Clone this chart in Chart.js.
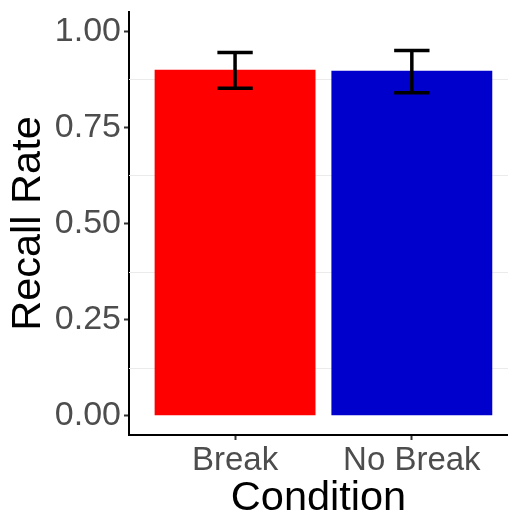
<!DOCTYPE html>
<html>
<head>
<meta charset="utf-8">
<script src="https://cdn.jsdelivr.net/npm/chart.js@4.4.1/dist/chart.umd.min.js"></script>
<style>
html,body{margin:0;padding:0;background:#fff;overflow:hidden;}
canvas{display:block;}
</style>
</head>
<body>
<canvas id="c" width="508" height="516"></canvas>
<script>
const categories = ["Break", "No Break"];
const recallRate = [0.900, 0.897];
const errLower = [0.852, 0.840];
const errUpper = [0.945, 0.950];
const barColors = ["#FF0000", "#0000CD"];
const yTicks = [0, 0.25, 0.5, 0.75, 1.0];
const yMinorGrid = [0.125, 0.375, 0.625, 0.875];

const minorGridPlugin = {
  id: 'minorGrid',
  beforeDatasetsDraw(chart) {
    const {ctx, chartArea, scales} = chart;
    ctx.save();
    ctx.strokeStyle = '#EBEBEB';
    ctx.lineWidth = 1;
    yMinorGrid.forEach(v => {
      const y = Math.round(scales.y.getPixelForValue(v)) + 0.5;
      ctx.beginPath();
      ctx.moveTo(chartArea.left, y);
      ctx.lineTo(chartArea.right, y);
      ctx.stroke();
    });
    ctx.restore();
  }
};

const errorBarPlugin = {
  id: 'errorBars',
  afterDatasetsDraw(chart) {
    const {ctx, scales} = chart;
    ctx.save();
    ctx.strokeStyle = '#000';
    ctx.lineWidth = 3.5;
    ctx.lineCap = 'butt';
    categories.forEach((c, i) => {
      const x = scales.x.getPixelForValue(i + 1);
      const hw = Math.abs(scales.x.getPixelForValue(i + 1.1) - x);
      const yl = scales.y.getPixelForValue(errLower[i]);
      const yu = scales.y.getPixelForValue(errUpper[i]);
      ctx.beginPath();
      ctx.moveTo(x, yl); ctx.lineTo(x, yu);
      ctx.moveTo(x - hw, yl); ctx.lineTo(x + hw, yl);
      ctx.moveTo(x - hw, yu); ctx.lineTo(x + hw, yu);
      ctx.stroke();
    });
    ctx.restore();
  }
};

new Chart(document.getElementById('c'), {
  type: 'bar',
  data: {
    datasets: [{
      data: categories.map((c, i) => ({x: i + 1, y: recallRate[i]})),
      backgroundColor: barColors,
      borderWidth: 0,
      categoryPercentage: 0.91,
      barPercentage: 1.0
    }]
  },
  options: {
    responsive: false,
    animation: false,
    devicePixelRatio: 1,
    layout: {padding: {top: 12, right: 0, left: 0, bottom: 0}},
    plugins: {legend: {display: false}, tooltip: {enabled: false}},
    scales: {
      x: {
        type: 'linear',
        offset: false,
        min: 0.4,
        max: 2.544,
        afterBuildTicks(scale) { scale.ticks = [{value: 1}, {value: 2}]; },
        afterFit(scale) { scale.height = 81; scale.paddingLeft = 0; scale.paddingRight = 0; },
        grid: {display: true, offset: false, drawOnChartArea: false, drawTicks: true, tickLength: 5, tickColor: '#333333', tickWidth: 2},
        border: {display: true, color: '#000000', width: 2},
        ticks: {
          callback: (v) => categories[v - 1] || '',
          color: '#4D4D4D',
          font: {family: "'Liberation Sans', Arial, sans-serif", size: 33},
          padding: 1,
          maxRotation: 0,
          autoSkip: false
        },
        title: {
          display: true,
          text: 'Condition',
          color: '#000000',
          font: {family: "'Liberation Sans', Arial, sans-serif", size: 41.5, lineHeight: 0.82},
          padding: {top: 0, bottom: 0}
        }
      },
      y: {
        type: 'linear',
        min: -0.05,
        max: 1.05,
        afterBuildTicks(scale) { scale.ticks = yTicks.map(v => ({value: v})); },
        afterFit(scale) { scale.width = 129; scale.paddingTop = 0; scale.paddingBottom = 0; },
        grid: {display: true, drawOnChartArea: false, drawTicks: true, tickLength: 5, tickColor: '#333333', tickWidth: 2},
        border: {display: true, color: '#000000', width: 2},
        ticks: {
          callback: (v) => Number(v).toFixed(2),
          color: '#4D4D4D',
          font: {family: "'Liberation Sans', Arial, sans-serif", size: 34},
          padding: 3
        },
        title: {
          display: true,
          text: 'Recall Rate',
          color: '#000000',
          font: {family: "'Liberation Sans', Arial, sans-serif", size: 41.5, lineHeight: 0.82},
          padding: {top: 12, bottom: 0}
        }
      }
    }
  },
  plugins: [minorGridPlugin, errorBarPlugin]
});
</script>
</body>
</html>
